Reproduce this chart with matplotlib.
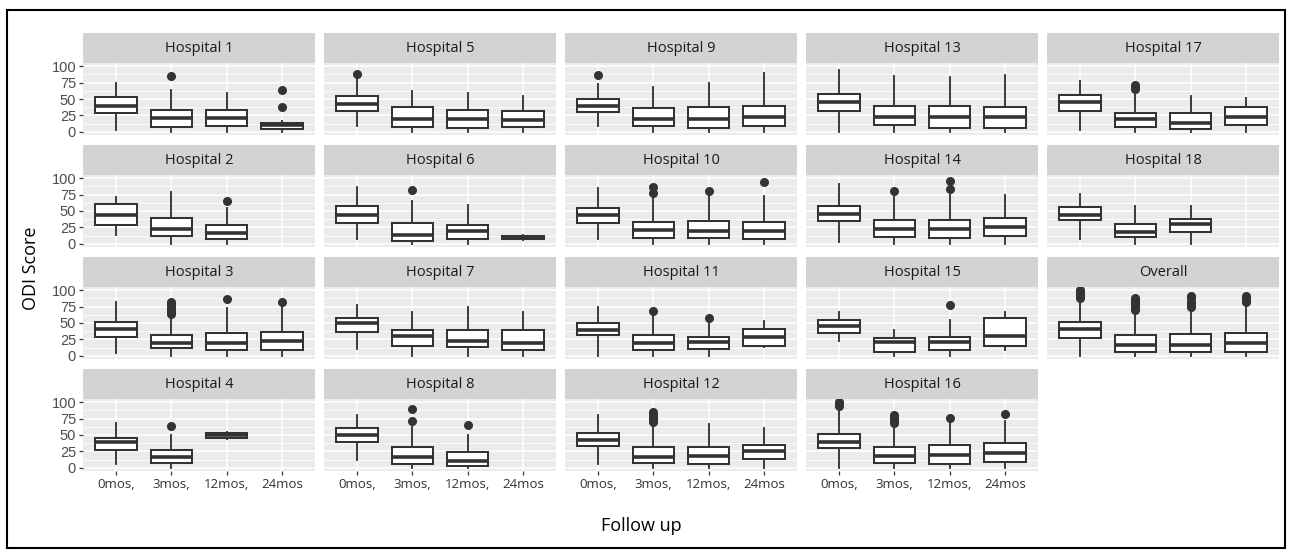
import matplotlib.pyplot as plt
from matplotlib.patches import Rectangle

# follow-up categories
follow_up = ['0mos,', '3mos,', '12mos,', '24mos']

# box summaries per follow-up: (whisker low, q1, median, q3, whisker high)
# None = no data at that follow-up
h1_box = [(2, 29, 40, 53, 75), (0, 7, 21, 33, 64), (0, 8, 21, 33, 59), (0, 4, 10, 14, 16)]
h1_out = [[], [85], [], [38, 64]]
h2_box = [(14, 28, 44, 61, 71), (0, 12, 22, 39, 79), (0, 7, 17, 28, 54), None]
h2_out = [[], [], [66], []]
h3_box = [(4, 29, 41, 51, 82), (0, 12, 20, 32, 58), (0, 9, 19, 34, 73), (0, 9, 23, 37, 74)]
h3_out = [[], [64, 67, 70, 73, 76, 79, 82], [86], [82]]
h4_box = [(6, 27, 40, 46, 68), (0, 7, 17, 27, 50), (44, 46, 50, 53, 55), None]
h4_out = [[], [63], [], []]
h5_box = [(9, 31, 43, 54, 82), (0, 7, 19, 38, 62), (0, 6, 19, 33, 59), (0, 7, 18, 32, 55)]
h5_out = [[88], [], [], []]
h6_box = [(7, 32, 44, 57, 86), (0, 4, 14, 32, 66), (0, 7, 20, 29, 59), (5, 7, 10, 12, 14)]
h6_out = [[], [82], [], []]
h7_box = [(11, 37, 50, 58, 78), (0, 15, 30, 39, 67), (0, 13, 23, 40, 74), (0, 8, 19, 40, 67)]
h7_out = [[], [], [], []]
h8_box = [(12, 40, 50, 60, 80), (0, 5, 17, 32, 62), (0, 3, 10, 24, 50), None]
h8_out = [[], [72, 90], [66], []]
h9_box = [(8, 30, 40, 50, 73), (0, 8, 20, 37, 68), (0, 6, 20, 38, 75), (0, 8, 23, 40, 89)]
h9_out = [[87], [], [], []]
h10_box = [(7, 32, 44, 54, 85), (0, 9, 21, 33, 71), (0, 8, 20, 34, 75), (0, 7, 19, 33, 73)]
h10_out = [[], [78, 87], [81], [94]]
h11_box = [(0, 32, 40, 50, 75), (0, 9, 19, 32, 61), (0, 10, 21, 29, 51), (13, 15, 28, 41, 53)]
h11_out = [[], [69], [57], []]
h12_box = [(5, 33, 42, 53, 80), (0, 7, 17, 32, 65), (0, 6, 18, 32, 67), (0, 13, 25, 35, 60)]
h12_out = [[], [70, 74, 78, 82, 85], [], []]
h13_box = [(0, 32, 45, 58, 94), (0, 10, 23, 40, 85), (0, 6, 22, 39, 83), (0, 6, 22, 38, 86)]
h13_out = [[], [], [], []]
h14_box = [(3, 34, 46, 57, 91), (0, 10, 23, 37, 74), (0, 9, 22, 37, 74), (0, 12, 25, 39, 74)]
h14_out = [[], [81], [84, 96], []]
h15_box = [(23, 35, 45, 55, 67), (0, 5, 21, 27, 40), (0, 8, 21, 28, 55), (9, 15, 30, 58, 67)]
h15_out = [[], [], [77], []]
h16_box = [(0, 30, 40, 52, 90), (0, 7, 18, 32, 63), (0, 6, 20, 34, 68), (0, 8, 22, 38, 72)]
h16_out = [[94, 97, 100], [68, 72, 76, 80], [76], [82]]
h17_box = [(3, 32, 45, 56, 77), (0, 7, 19, 29, 58), (0, 4, 14, 29, 54), (0, 10, 22, 38, 52)]
h17_out = [[], [66, 69, 72], [], []]
h18_box = [(7, 37, 44, 56, 76), (0, 10, 18, 30, 58), (0, 18, 30, 38, 57), None]
h18_out = [[], [], [], []]
all_box = [(0, 27, 41, 52, 84), (0, 5, 17, 32, 66), (0, 5, 17, 33, 72), (0, 5, 20, 35, 78)]
all_out = [[88, 91, 94, 97, 100], [70, 73, 76, 79, 82, 85, 88], [75, 78, 82, 88, 92], [82, 85, 88, 91]]

# facet order (filled column by column, like the reference)
facets = [
    ('Hospital 1', h1_box, h1_out), ('Hospital 2', h2_box, h2_out),
    ('Hospital 3', h3_box, h3_out), ('Hospital 4', h4_box, h4_out),
    ('Hospital 5', h5_box, h5_out), ('Hospital 6', h6_box, h6_out),
    ('Hospital 7', h7_box, h7_out), ('Hospital 8', h8_box, h8_out),
    ('Hospital 9', h9_box, h9_out), ('Hospital 10', h10_box, h10_out),
    ('Hospital 11', h11_box, h11_out), ('Hospital 12', h12_box, h12_out),
    ('Hospital 13', h13_box, h13_out), ('Hospital 14', h14_box, h14_out),
    ('Hospital 15', h15_box, h15_out), ('Hospital 16', h16_box, h16_out),
    ('Hospital 17', h17_box, h17_out), ('Hospital 18', h18_box, h18_out),
    ('Overall', all_box, all_out),
]

W, H = 1296, 551
fig = plt.figure(figsize=(W / 100, H / 100), dpi=100)

#pixel -> figure fraction
def fx(px):
    return px / W

def fy(py):
    return 1 - py / H

line_col = '#333333'

for k, (name, boxes, outs) in enumerate(facets):

    col = k // 4
    row = k % 4

    left = 83 + col * 241
    top = 33 + row * 112

    #strip
    sax = fig.add_axes([fx(left), fy(top + 30), fx(232), 30 / H])
    sax.set_facecolor('#D3D3D3')
    sax.set_xticks([])
    sax.set_yticks([])
    for sp in sax.spines.values():
        sp.set_visible(False)
    sax.text(0.5, 0.48, name, ha='center', va='center', fontsize=10.5,
             family='Open Sans', color='#1A1A1A', transform=sax.transAxes)

    #panel
    ax = fig.add_axes([fx(left), fy(top + 30 + 72), fx(232), 72 / H])
    ax.set_facecolor('#EBEBEB')

    stats = []
    pos = []
    for i, b in enumerate(boxes):
        if b is None:
            continue
        stats.append(dict(whislo=b[0], q1=b[1], med=b[2], q3=b[3], whishi=b[4],
                          fliers=outs[i], label=follow_up[i]))
        pos.append(i + 1)

    ax.bxp(stats, positions=pos, widths=0.75, patch_artist=True, showcaps=False,
           boxprops=dict(facecolor='white', edgecolor=line_col, linewidth=1.45),
           medianprops=dict(color=line_col, linewidth=2.6, solid_capstyle='butt'),
           whiskerprops=dict(color=line_col, linewidth=1.35),
           flierprops=dict(marker='o', markerfacecolor=line_col,
                           markeredgecolor=line_col, markersize=5.5))

    ax.set_xlim(0.4, 4.6)
    ax.set_ylim(-5, 105)
    ax.set_xticks([1, 2, 3, 4])
    ax.set_xticklabels(follow_up)
    ax.set_yticks([0, 25, 50, 75, 100])
    ax.set_yticks([12.5, 37.5, 62.5, 87.5], minor=True)
    ax.grid(which='major', color='white', linewidth=1.1)
    ax.grid(which='minor', axis='y', color='white', linewidth=0.55)
    ax.set_axisbelow(True)
    for sp in ax.spines.values():
        sp.set_visible(False)

    ax.tick_params(which='minor', length=0)
    ax.tick_params(which='major', length=3, width=0.9, color=line_col, pad=2)
    ax.tick_params(axis='y', labelsize=10.5, labelcolor='#4D4D4D')
    ax.tick_params(axis='x', labelsize=9.5, labelcolor='#333333')
    for lab in ax.get_yticklabels():
        lab.set_family('Liberation Sans')
    for lab in ax.get_xticklabels():
        lab.set_family('Open Sans')

    if col != 0:
        ax.tick_params(axis='y', left=False, labelleft=False)
    if row != 3:
        ax.tick_params(axis='x', bottom=False, labelbottom=False)

#axis titles
fig.text(fx(641), fy(526), 'Follow up', ha='center', va='center',
         fontsize=13, family='Open Sans', color='black')
fig.text(fx(31), fy(268), 'ODI Score', ha='center', va='center', rotation=90,
         fontsize=13, family='Open Sans', color='black')

#outer frame
fig.add_artist(Rectangle((fx(7), fy(548)), fx(1278), (548 - 10) / H, fill=False,
                         linewidth=1.5, edgecolor='black', transform=fig.transFigure))

fig.savefig('out.png', dpi=100)
